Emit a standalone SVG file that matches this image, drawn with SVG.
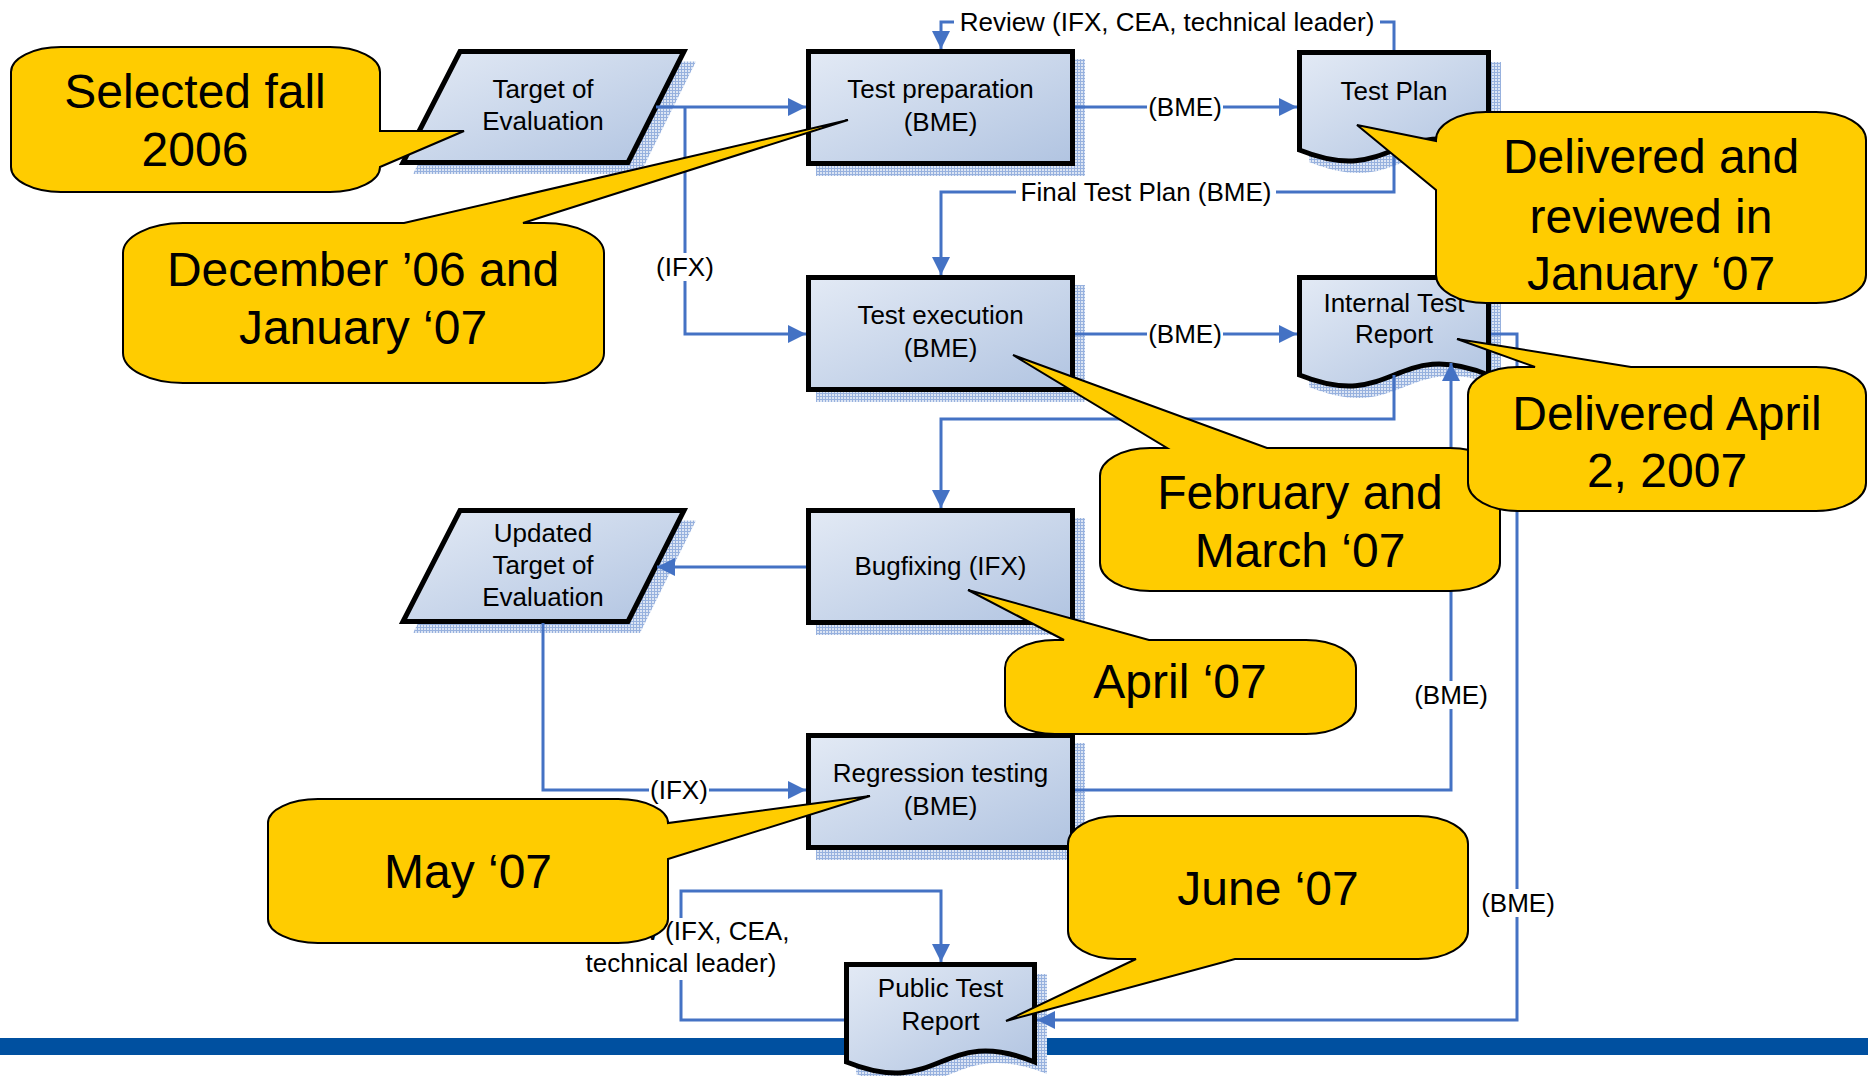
<svg xmlns="http://www.w3.org/2000/svg" width="1868" height="1076" viewBox="0 0 1868 1076">
<defs>
<style>
.node{fill:url(#g);stroke:#000;stroke-width:5;stroke-linejoin:miter}
.sh{fill:url(#hatch)}
.t{font-family:"Liberation Sans",Arial,sans-serif;font-size:26px;text-anchor:middle;fill:#000}
.ct{font-size:48px}
.co{fill:#FFCC00;stroke:#000;stroke-width:2;stroke-linejoin:miter}
.cn{fill:none;stroke:#4472C4;stroke-width:3}
.lb{fill:#fff}
</style>
<linearGradient id="g" x1="0" y1="0" x2="1" y2="1">
<stop offset="0" stop-color="#E3EAF5"/>
<stop offset="1" stop-color="#B1C4E1"/>
</linearGradient>
<pattern id="hatch" width="3" height="3" patternUnits="userSpaceOnUse">
<rect width="3" height="3" fill="#DCE5F4"/>
<rect width="3" height="1" fill="#97B1DE"/>
<rect width="1" height="3" fill="#97B1DE"/>
</pattern>
<marker id="ah" viewBox="0 0 10 10" refX="10" refY="5" markerWidth="18" markerHeight="18" markerUnits="userSpaceOnUse" orient="auto">
<path d="M0,0 L10,5 L0,10 z" fill="#4472C4"/>
</marker>
</defs>
<rect width="1868" height="1076" fill="#fff"/>
<rect id="bar" x="0" y="1038" width="1868" height="17" fill="#0050A0"/>

<g id="toe">
<polygon class="sh" points="470,61.5 696,61.5 640,174 413,174"/>
<polygon class="node" points="460,51.5 684,51.5 628,162.5 403,162.5"/>
<text class="t" x="543" y="98">Target of</text>
<text class="t" x="543" y="130">Evaluation</text>
</g>
<g id="test-preparation">
<rect class="sh" x="816" y="59" width="269" height="117"/>
<rect class="node" x="808.5" y="51.5" width="264" height="112"/>
<text class="t" x="940.5" y="98">Test preparation</text>
<text class="t" x="940.5" y="131">(BME)</text>
</g>
<g id="test-plan">
<path class="sh" d="M1309,62 H1501 V162 C1404,124 1404,200 1309,162 Z"/>
<path class="node" d="M1299.5,52.5 H1488.5 V150 C1394,112 1394,188 1299.5,150 Z"/>
<text class="t" x="1394" y="100">Test Plan</text>
</g>
<g id="test-execution">
<rect class="sh" x="816" y="285" width="269" height="117"/>
<rect class="node" x="808.5" y="277.5" width="264" height="112"/>
<text class="t" x="940.5" y="324">Test execution</text>
<text class="t" x="940.5" y="357">(BME)</text>
</g>
<g id="internal-test-report">
<path class="sh" d="M1309,287 H1501 V387 C1404,349 1404,425 1309,387 Z"/>
<path class="node" d="M1299.5,277.5 H1488.5 V375 C1394,337 1394,413 1299.5,375 Z"/>
<text class="t" x="1394" y="312">Internal Test</text>
<text class="t" x="1394" y="343">Report</text>
</g>
<g id="bugfixing">
<rect class="sh" x="816" y="518" width="269" height="117"/>
<rect class="node" x="808.5" y="510.5" width="264" height="112"/>
<text class="t" x="940.5" y="575">Bugfixing (IFX)</text>
</g>
<g id="updated-toe">
<polygon class="sh" points="470,520.5 696,520.5 640,633 413,633"/>
<polygon class="node" points="460,510.5 684,510.5 628,621.5 403,621.5"/>
<text class="t" x="543" y="542">Updated</text>
<text class="t" x="543" y="574">Target of</text>
<text class="t" x="543" y="606">Evaluation</text>
</g>
<g id="regression-testing">
<rect class="sh" x="816" y="743" width="269" height="117"/>
<rect class="node" x="808.5" y="735.5" width="264" height="112"/>
<text class="t" x="940.5" y="782">Regression testing</text>
<text class="t" x="940.5" y="815">(BME)</text>
</g>
<g id="public-test-report">
<path class="sh" d="M856,974 H1047 V1074 C950,1036 950,1112 856,1074 Z"/>
<path class="node" d="M846.5,964.5 H1034.5 V1062 C940.5,1024 940.5,1100 846.5,1062 Z"/>
<text class="t" x="940.5" y="997">Public Test</text>
<text class="t" x="940.5" y="1030">Report</text>
</g>

<g id="connectors">
<path class="cn" d="M656,107 H806" marker-end="url(#ah)"/>
<path class="cn" d="M685,107 V334 H806" marker-end="url(#ah)"/>
<path class="cn" d="M1075,107 H1297" marker-end="url(#ah)"/>
<path class="cn" d="M1394,50 V22 H941 V49" marker-end="url(#ah)"/>
<path class="cn" d="M1394,152 V192 H941 V275" marker-end="url(#ah)"/>
<path class="cn" d="M1075,334 H1297" marker-end="url(#ah)"/>
<path class="cn" d="M1394,375 V419 H941 V508" marker-end="url(#ah)"/>
<path class="cn" d="M806,567 H657" marker-end="url(#ah)"/>
<path class="cn" d="M543,623 V790 H806" marker-end="url(#ah)"/>
<path class="cn" d="M1075,790 H1451 V363" marker-end="url(#ah)"/>
<path class="cn" d="M1491,334 H1517 V1020 H1037" marker-end="url(#ah)"/>
<path class="cn" d="M844,1020 H681 V891 H941 V962" marker-end="url(#ah)"/>
<g id="labels">
<rect class="lb" x="954" y="8" width="426" height="28"/>
<text class="t" x="1167" y="31">Review (IFX, CEA, technical leader)</text>
<rect class="lb" x="1147" y="93" width="76" height="28"/>
<text class="t" x="1185" y="116">(BME)</text>
<rect class="lb" x="1016" y="178" width="260" height="28"/>
<text class="t" x="1146" y="201">Final Test Plan (BME)</text>
<rect class="lb" x="655" y="253" width="60" height="28"/>
<text class="t" x="685" y="276">(IFX)</text>
<rect class="lb" x="1147" y="320" width="76" height="28"/>
<text class="t" x="1185" y="343">(BME)</text>
<rect class="lb" x="1413" y="681" width="76" height="28"/>
<text class="t" x="1451" y="704">(BME)</text>
<rect class="lb" x="649" y="776" width="60" height="28"/>
<text class="t" x="679" y="799">(IFX)</text>
<rect class="lb" x="1480" y="889" width="76" height="28"/>
<text class="t" x="1518" y="912">(BME)</text>
<rect class="lb" x="571" y="918" width="222" height="62"/>
<text class="t" x="681" y="940">Review (IFX, CEA,</text>
<text class="t" x="681" y="972">technical leader)</text>
</g>
</g>

<g id="callout-selected">
<path class="co" d="M61,47 H330 A50,25 0 0 1 380,72 V131 L464,131 L380,167 A50,25 0 0 1 330,192 H61 A50,25 0 0 1 11,167 V72 A50,25 0 0 1 61,47 Z"/>
<text class="t ct" x="195" y="108">Selected fall</text>
<text class="t ct" x="195" y="166">2006</text>
</g>
<g id="callout-december">
<path class="co" d="M183,223 H404 L848,120 L523,223 H544 A60,30 0 0 1 604,253 V353 A60,30 0 0 1 544,383 H183 A60,30 0 0 1 123,353 V253 A60,30 0 0 1 183,223 Z"/>
<text class="t ct" x="363" y="286">December ’06 and</text>
<text class="t ct" x="363" y="344">January ‘07</text>
</g>
<g id="callout-testplan">
<path class="co" d="M1486,112 H1816 A50,28 0 0 1 1866,140 V275 A50,28 0 0 1 1816,303 H1486 A50,28 0 0 1 1436,275 V190 L1357,125 L1436,141 V140 A50,28 0 0 1 1486,112 Z"/>
<text class="t ct" x="1651" y="173">Delivered and</text>
<text class="t ct" x="1651" y="233">reviewed in</text>
<text class="t ct" x="1651" y="290">January ‘07</text>
</g>
<g id="callout-february">
<path class="co" d="M1150,448 H1167 L1013,355 L1267,448 H1450 A50,28 0 0 1 1500,476 V563 A50,28 0 0 1 1450,591 H1150 A50,28 0 0 1 1100,563 V476 A50,28 0 0 1 1150,448 Z"/>
<text class="t ct" x="1300" y="509">February and</text>
<text class="t ct" x="1300" y="567">March ‘07</text>
</g>
<g id="callout-april2">
<path class="co" d="M1518,367 H1535 L1457,339 L1631,367 H1816 A50,28 0 0 1 1866,395 V483 A50,28 0 0 1 1816,511 H1518 A50,28 0 0 1 1468,483 V395 A50,28 0 0 1 1518,367 Z"/>
<text class="t ct" x="1667" y="430">Delivered April</text>
<text class="t ct" x="1667" y="487">2, 2007</text>
</g>
<g id="callout-april">
<path class="co" d="M1055,640 H1064 L968,590 L1149,640 H1306 A50,28 0 0 1 1356,668 V706 A50,28 0 0 1 1306,734 H1055 A50,28 0 0 1 1005,706 V668 A50,28 0 0 1 1055,640 Z"/>
<text class="t ct" x="1180" y="698">April ‘07</text>
</g>
<g id="callout-may">
<path class="co" d="M318,799 H618 A50,24 0 0 1 668,823 L870,796 L668,859 V919 A50,24 0 0 1 618,943 H318 A50,24 0 0 1 268,919 V823 A50,24 0 0 1 318,799 Z"/>
<text class="t ct" x="468" y="888">May ‘07</text>
</g>
<g id="callout-june">
<path class="co" d="M1118,816 H1418 A50,28 0 0 1 1468,844 V931 A50,28 0 0 1 1418,959 H1235 L1006,1021 L1136,959 H1118 A50,28 0 0 1 1068,931 V844 A50,28 0 0 1 1118,816 Z"/>
<text class="t ct" x="1268" y="905">June ‘07</text>
</g>
</svg>
